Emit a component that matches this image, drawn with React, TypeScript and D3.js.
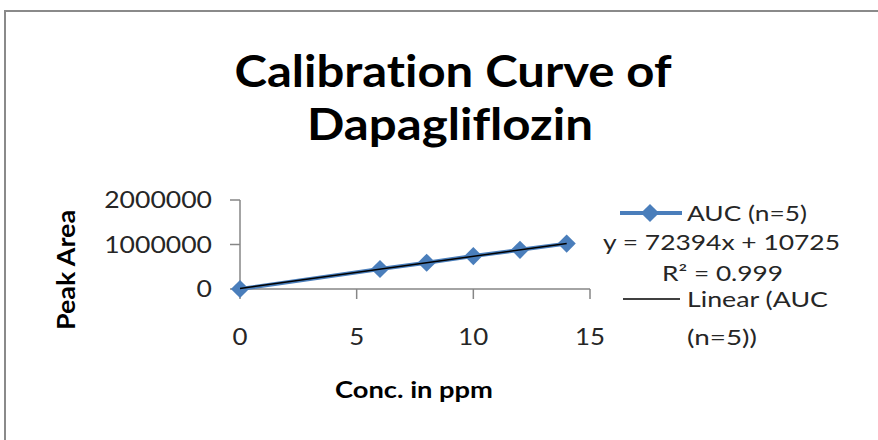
import React from "react";
import * as d3 from "d3";

// calibration data
const conc = [0, 6, 8, 10, 12, 14];
const peakArea = [0, 450000, 590000, 740000, 880000, 1020000];
const xTicks = [0, 5, 10, 15];
const yTicks = [0, 1000000, 2000000];
const slope = 72394;
const intercept = 10725;

const W = 878;
const H = 440;
const FONT = "Lato, 'Open Sans', sans-serif";
const BLUE = "#4a7ebb";
const AXIS = "#868686";

const App = () => {
    const x = d3.scaleLinear().domain([0, 15]).range([240, 590]);
    const y = d3.scaleLinear().domain([0, 2000000]).range([289, 200]);

    const points = conc.map((c, i) => ({ c, v: peakArea[i] }));
    const line = d3.line<{ c: number; v: number }>()
        .x(d => x(d.c))
        .y(d => y(d.v));
    const trend = [0, 14].map(c => ({ c, v: slope * c + intercept }));
    const diamond = d3.symbol().type(d3.symbolSquare).size(165)();

    return (
        <svg width={W} height={H}
            style={{ position: "absolute", left: 0, top: 0, fontVariantLigatures: "none", fontFeatureSettings: "'liga' 0" }}>
            <rect x={0} y={0} width={W} height={H} fill="#fff" />
            <rect x={5} y={11} width={W + 20} height={H + 20} fill="none" stroke="#8a8a8a" strokeWidth={2} />

            {/* title */}
            <g fontFamily={FONT} fontWeight="bold" fontSize={44} textAnchor="middle" fill="#000">
                <text x={453} y={87} textLength={437} lengthAdjust="spacingAndGlyphs">Calibration Curve of</text>
                <text x={450} y={140} textLength={286} lengthAdjust="spacingAndGlyphs">Dapagliflozin</text>
            </g>

            {/* axes */}
            <g stroke={AXIS} strokeWidth={1.5}>
                <line x1={x(0)} x2={x(0)} y1={y(2000000)} y2={y(0)} />
                {yTicks.map(t => (
                    <line key={t} x1={x(0) - 10} x2={x(0)} y1={y(t)} y2={y(t)} />
                ))}
                <line x1={x(0)} x2={x(15)} y1={y(0)} y2={y(0)} />
                {xTicks.map(t => (
                    <line key={t} x1={x(t)} x2={x(t)} y1={y(0)} y2={y(0) + 10} />
                ))}
            </g>
            <g fontFamily={FONT} fontSize={23} fill="#262626">
                {yTicks.map(t => (
                    <text key={t} x={212} y={y(t) + 8} textAnchor="end"
                        textLength={String(t).length * 15.4} lengthAdjust="spacingAndGlyphs">{t}</text>
                ))}
                {xTicks.map(t => (
                    <text key={t} x={x(t)} y={345} textAnchor="middle"
                        textLength={String(t).length * 15} lengthAdjust="spacingAndGlyphs">{t}</text>
                ))}
            </g>

            {/* axis titles */}
            <g fontFamily={FONT} fontWeight="bold" fill="#000">
                <text x={414} y={398} fontSize={22} textAnchor="middle" textLength={158} lengthAdjust="spacingAndGlyphs">Conc. in ppm</text>
                <text transform="translate(75,270) rotate(-90)" fontSize={24} textAnchor="middle"
                    textLength={120} lengthAdjust="spacingAndGlyphs">Peak Area</text>
            </g>

            {/* series */}
            <path d={line(points) ?? ""} fill="none" stroke={BLUE} strokeWidth={4} />
            {points.map(p => (
                <path key={p.c} d={diamond ?? ""} fill={BLUE}
                    transform={`translate(${x(p.c)},${y(p.v)}) rotate(45)`} />
            ))}
            <path d={line(trend) ?? ""} fill="none" stroke="#000" strokeWidth={1.5} />

            {/* legend + trend label */}
            <line x1={620} x2={682} y1={213} y2={213} stroke={BLUE} strokeWidth={4} />
            <path d={diamond ?? ""} fill={BLUE} transform="translate(650,213) rotate(45)" />
            <line x1={623} x2={680} y1={299} y2={299} stroke="#000" strokeWidth={1.5} />
            <g fontFamily={FONT} fontSize={21} fill="#262626">
                <text x={687} y={221} textLength={120} lengthAdjust="spacingAndGlyphs">AUC (n=5)</text>
                <text x={603} y={250} textLength={237} lengthAdjust="spacingAndGlyphs">y = 72394x + 10725</text>
                <text x={662} y={281} textLength={121} lengthAdjust="spacingAndGlyphs">R² = 0.999</text>
                <text x={687} y={307} textLength={141} lengthAdjust="spacingAndGlyphs">Linear (AUC</text>
                <text x={687} y={345} textLength={70} lengthAdjust="spacingAndGlyphs">(n=5))</text>
            </g>
        </svg>
    );
};

export default App;
